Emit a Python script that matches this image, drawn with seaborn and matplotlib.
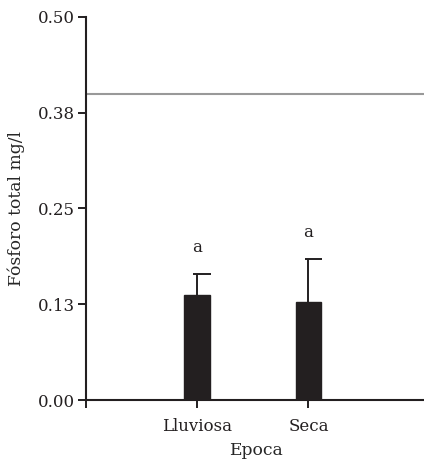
import matplotlib
matplotlib.use("Agg")
import matplotlib.pyplot as plt
import seaborn as sns
import pandas as pd
import numpy as np

# --- Data ---
epocas = ["Lluviosa", "Seca"]
medias = [0.1375, 0.1275]
errores = [0.027, 0.0565]
letras = ["a", "a"]
limite = 0.40
yticks = [0.0, 0.125, 0.25, 0.375, 0.5]
ytick_labels = ["0.00", "0.13", "0.25", "0.38", "0.50"]

sns.set_theme(style="ticks")
plt.rcParams["font.family"] = ["DejaVu Serif"]

fig = plt.figure(figsize=(4.24, 4.69), dpi=100)
ax = fig.add_axes([0.203, 0.147, 0.80, 0.817])

df = pd.DataFrame({"Epoca": epocas, "Fosforo": medias})
sns.barplot(data=df, x="Epoca", y="Fosforo", ax=ax, color="#231f20",
            width=0.23, saturation=1, errorbar=None, edgecolor="#231f20")

# error bars, upper side only, cap leaning right
pos = np.arange(len(epocas))
tops = np.array(medias) + np.array(errores)
ax.vlines(pos, medias, tops, color="#231f20", lw=1.4, zorder=3)
ax.hlines(tops, pos - 0.035, pos + 0.12, color="#231f20", lw=1.4, zorder=3)

for x, t, l in zip(pos, tops, letras):
    ax.text(x, t + 0.024, l, ha="center", va="bottom", fontsize=12, color="#231f20")

ax.axhline(limite, color="#999999", lw=1.5, zorder=1)

ax.set_xlim(-1, 2.05)
ax.set_ylim(0, 0.5)
ax.set_yticks(yticks)
ax.set_yticklabels(ytick_labels)
ax.set_xticks([-1], minor=True)
ax.set_xlabel("Epoca", fontsize=12.3, labelpad=5)
ax.set_ylabel("Fósforo total mg/l", fontsize=12.3, labelpad=9)
ax.tick_params(axis="both", labelsize=12, width=1.4, length=6, color="#231f20",
               labelcolor="#231f20", which="both")
ax.tick_params(axis="y", pad=2)
ax.tick_params(axis="x", pad=7)
for s in ["right", "top"]:
    ax.spines[s].set_visible(False)
for s in ["left", "bottom"]:
    ax.spines[s].set_linewidth(1.5)
    ax.spines[s].set_color("#231f20")

fig.savefig("out.png", dpi=100)
